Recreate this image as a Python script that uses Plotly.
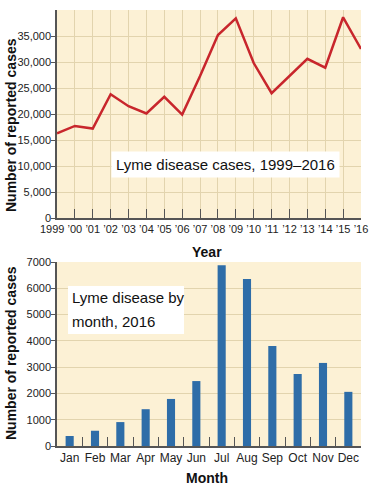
import plotly.graph_objects as go

years = list(range(1999, 2017))
year_labels = ["1999", "\u201900", "\u201901", "\u201902", "\u201903", "\u201904", "\u201905", "\u201906",
               "\u201907", "\u201908", "\u201909", "\u201910", "\u201911", "\u201912", "\u201913", "\u201914",
               "\u201915", "\u201916"]
cases = [16300, 17700, 17200, 23800, 21500, 20100, 23300, 19900, 27300, 35200,
         38400, 29800, 24000, 27300, 30600, 28900, 38600, 32500]

months = ["Jan", "Feb", "Mar", "Apr", "May", "Jun", "Jul", "Aug", "Sep", "Oct", "Nov", "Dec"]
month_cases = [380, 580, 910, 1400, 1790, 2470, 6880, 6350, 3800, 2740, 3160, 2060]

top_ticks = [0, 5000, 10000, 15000, 20000, 25000, 30000, 35000]
bot_ticks = [0, 1000, 2000, 3000, 4000, 5000, 6000, 7000]

BG = "#FCF1D5"
GRID = "#E2D4AE"
AX = "#555555"
TICKFONT = dict(family="Liberation Sans, Arial", size=11, color="#222")

W, H = 372, 496
PL, PR, PT, PB = 57, 361, 10, 446   # plot-area extents in pixels
L, R, T, B = PL, W - PR, PT, H - PB
PH = H - T - B
PW = W - L - R


def py(pix):
    return (PB - pix) / PH


def px(pix):
    return (pix - PL) / PW


fig = go.Figure()
fig.add_trace(go.Scatter(x=years, y=cases, mode="lines", line=dict(color="#C8262C", width=2.5),
                         xaxis="x", yaxis="y", showlegend=False, hoverinfo="skip"))
fig.add_trace(go.Bar(x=months, y=month_cases, marker=dict(color="#2E6DA8", line=dict(width=0)),
                     xaxis="x2", yaxis="y2", showlegend=False, hoverinfo="skip"))

top_ticktext = [""] + year_labels[1:]

fig.update_layout(
    width=W, height=H,
    margin=dict(l=L, r=R, t=T, b=B, autoexpand=False),
    paper_bgcolor="white",
    plot_bgcolor=BG,
    bargap=0.68,
    xaxis=dict(domain=[0, 1], anchor="y", range=[1999, 2016], tickvals=years, ticktext=top_ticktext,
               tickangle=0, automargin=False,
               showgrid=True, gridcolor=GRID, gridwidth=1, ticks="inside", ticklen=9, tickcolor=AX,
               showline=True, linecolor=AX, linewidth=1.5, tickfont=TICKFONT, zeroline=False),
    yaxis=dict(domain=[py(218), 1], anchor="x", range=[0, 40000], tickvals=top_ticks, automargin=False,
               ticktext=[f"{v:,}" for v in top_ticks], showgrid=True, gridcolor=GRID, gridwidth=1,
               ticks="outside", ticklen=4, tickcolor=AX, showline=True, linecolor=AX, linewidth=1.5,
               tickfont=TICKFONT, zeroline=False, ticklabelstandoff=-2),
    xaxis2=dict(domain=[0, 1], anchor="y2", showgrid=False, ticks="inside", ticklen=9, tickcolor=AX,
                tickangle=0, automargin=False,
                tickson="boundaries", showline=True, linecolor=AX, linewidth=1.5,
                tickfont=dict(family="Liberation Sans, Arial", size=12, color="#222")),
    yaxis2=dict(domain=[0, py(262)], anchor="x2", range=[0, 7000], tickvals=bot_ticks, automargin=False,
                showgrid=True, gridcolor=GRID, gridwidth=1, ticks="outside", ticklen=4, tickcolor=AX,
                showline=True, linecolor=AX, linewidth=1.5, tickfont=TICKFONT, zeroline=False,
                ticklabelstandoff=-2),
)

# first year label sits slightly left of its tick, as in the reference
fig.add_annotation(xref="paper", yref="paper", x=px(52), y=py(229), xanchor="center", yanchor="middle",
                   text=year_labels[0], showarrow=False, font=TICKFONT)

TITLEFONT = dict(family="Liberation Sans, Arial", size=14, color="#111")
ann = [
    dict(text="<b>Number of reported cases</b>", x=px(11), y=py(125), textangle=-90),
    dict(text="<b>Number of reported cases</b>", x=px(11), y=py(353), textangle=-90),
    dict(text="<b>Year</b>", x=px(207), y=py(252)),
    dict(text="<b>Month</b>", x=px(207), y=py(478)),
]
for a in ann:
    fig.add_annotation(xref="paper", yref="paper", showarrow=False, xanchor="center", yanchor="middle",
                       font=TITLEFONT, **a)

BOXFONT = dict(family="Liberation Sans, Arial", size=15, color="#111")
fig.add_annotation(xref="paper", yref="paper", x=px(225), y=py(164), xanchor="center", yanchor="middle",
                   text="Lyme disease cases, 1999\u20132016", showarrow=False, bgcolor="white",
                   borderpad=4, font=BOXFONT)
fig.add_shape(type="rect", xref="paper", yref="paper", x0=px(68), x1=px(184), y0=py(334), y1=py(286),
              fillcolor="white", line=dict(width=0), layer="above")
fig.add_annotation(xref="paper", yref="paper", x=px(70), y=py(297), xanchor="left", yanchor="middle",
                   text="Lyme disease by", showarrow=False, font=BOXFONT)
fig.add_annotation(xref="paper", yref="paper", x=px(70), y=py(321), xanchor="left", yanchor="middle",
                   text="month, 2016", showarrow=False, font=BOXFONT)

fig.write_html("out.html", config={"displayModeBar": False},
               post_script="document.body.style.margin='0';document.body.style.overflow='hidden';")
